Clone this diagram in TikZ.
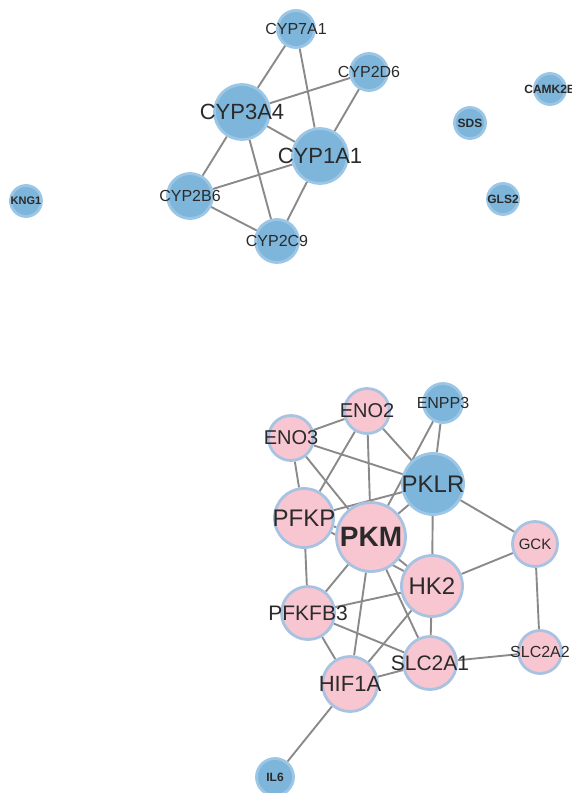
\documentclass[tikz,border=0pt]{standalone}
\usepackage{fontspec}
\setmainfont{Liberation Sans}
\usetikzlibrary{backgrounds}
\definecolor{bfill}{HTML}{7DB6DA}
\definecolor{bborder}{HTML}{9CC6E6}
\definecolor{pfill}{HTML}{F8C6D0}
\definecolor{pborder}{HTML}{A8C2E2}
\definecolor{edgec}{HTML}{8A8A8A}
\definecolor{labc}{HTML}{2A2A2A}
\tikzset{
  bnode/.style={circle, draw=bborder, fill=bfill, line width=2.8pt, inner sep=0pt, minimum size=#1},
  pnode/.style={circle, draw=pborder, fill=pfill, line width=2.8pt, inner sep=0pt, minimum size=#1},
  lab/.style={font=\fontsize{#1}{#1}\selectfont, text=labc, inner sep=0pt},
  blab/.style={font=\fontsize{#1}{#1}\selectfont\bfseries, text=labc, inner sep=0pt},
  edge/.style={draw=edgec, line width=1.9pt}
}
\begin{document}
\begin{tikzpicture}[x=1pt,y=-1pt]
\clip (0,0) rectangle (571,793);
% top cluster
\node[bnode=37, label={[lab=16]center:CYP7A1}] (cyp7a1) at (296,29) {};
\node[bnode=37, label={[lab=16]center:CYP2D6}] (cyp2d6) at (369,72) {};
\node[bnode=55, label={[lab=22]center:CYP3A4}] (cyp3a4) at (242,112) {};
\node[bnode=55, label={[lab=22]center:CYP1A1}] (cyp1a1) at (320,156) {};
\node[bnode=45, label={[lab=16]center:CYP2B6}] (cyp2b6) at (190,196) {};
\node[bnode=43, label={[lab=16]center:CYP2C9}] (cyp2c9) at (277,241) {};
\node[bnode=31, label={[blab=11]center:KNG1}] (kng1) at (26,201) {};
\node[bnode=31, label={[blab=12]center:SDS}] (sds) at (470,123) {};
\node[bnode=31, label={[blab=12]center:CAMK2B}] (camk2b) at (550,89) {};
\node[bnode=31, label={[blab=12]center:GLS2}] (gls2) at (503,199) {};
% bottom cluster
\node[pnode=45, label={[lab=20]center:ENO2}] (eno2) at (367,411) {};
\node[bnode=39, label={[lab=16]center:ENPP3}] (enpp3) at (443,403) {};
\node[pnode=45, label={[lab=20]center:ENO3}] (eno3) at (291,438) {};
\node[bnode=61, label={[lab=24]center:PKLR}] (pklr) at (433,484) {};
\node[pnode=59, label={[lab=24]center:PFKP}] (pfkp) at (304,518) {};
\node[pnode=69, label={[blab=28]center:PKM}] (pkm) at (371,537) {};
\node[pnode=61, label={[lab=24]center:HK2}] (hk2) at (432,586) {};
\node[pnode=45, label={[lab=15]center:GCK}] (gck) at (535,544) {};
\node[pnode=53, label={[lab=21]center:PFKFB3}] (pfkfb3) at (308,613) {};
\node[pnode=53, label={[lab=21]center:SLC2A1}] (slc2a1) at (430,663) {};
\node[pnode=43, label={[lab=16]center:SLC2A2}] (slc2a2) at (540,652) {};
\node[pnode=55, label={[lab=22]center:HIF1A}] (hif1a) at (350,684) {};
\node[bnode=37, label={[blab=12]center:IL6}] (il6) at (275,777) {};
\begin{pgfonlayer}{background}
\foreach \a/\b in {cyp7a1/cyp3a4, cyp7a1/cyp1a1, cyp2d6/cyp3a4, cyp2d6/cyp1a1,
  cyp3a4/cyp1a1, cyp3a4/cyp2b6, cyp3a4/cyp2c9, cyp1a1/cyp2b6, cyp1a1/cyp2c9, cyp2b6/cyp2c9,
  eno3/eno2, eno3/pklr, eno3/pfkp, eno3/pkm, eno2/pfkp, eno2/pkm, eno2/pklr,
  enpp3/pklr, enpp3/pkm, pfkp/pklr, pfkp/pkm, pfkp/pfkfb3, pfkp/hk2,
  pkm/pklr, pkm/hk2, pkm/pfkfb3, pkm/hif1a, pkm/slc2a1,
  pklr/hk2, pklr/gck, hk2/gck, hk2/pfkfb3, hk2/hif1a, hk2/slc2a1,
  gck/slc2a2, pfkfb3/slc2a1, pfkfb3/hif1a, slc2a1/hif1a, slc2a1/slc2a2, hif1a/il6}
  \draw[edge] (\a) -- (\b);
\end{pgfonlayer}
\end{tikzpicture}
\end{document}
